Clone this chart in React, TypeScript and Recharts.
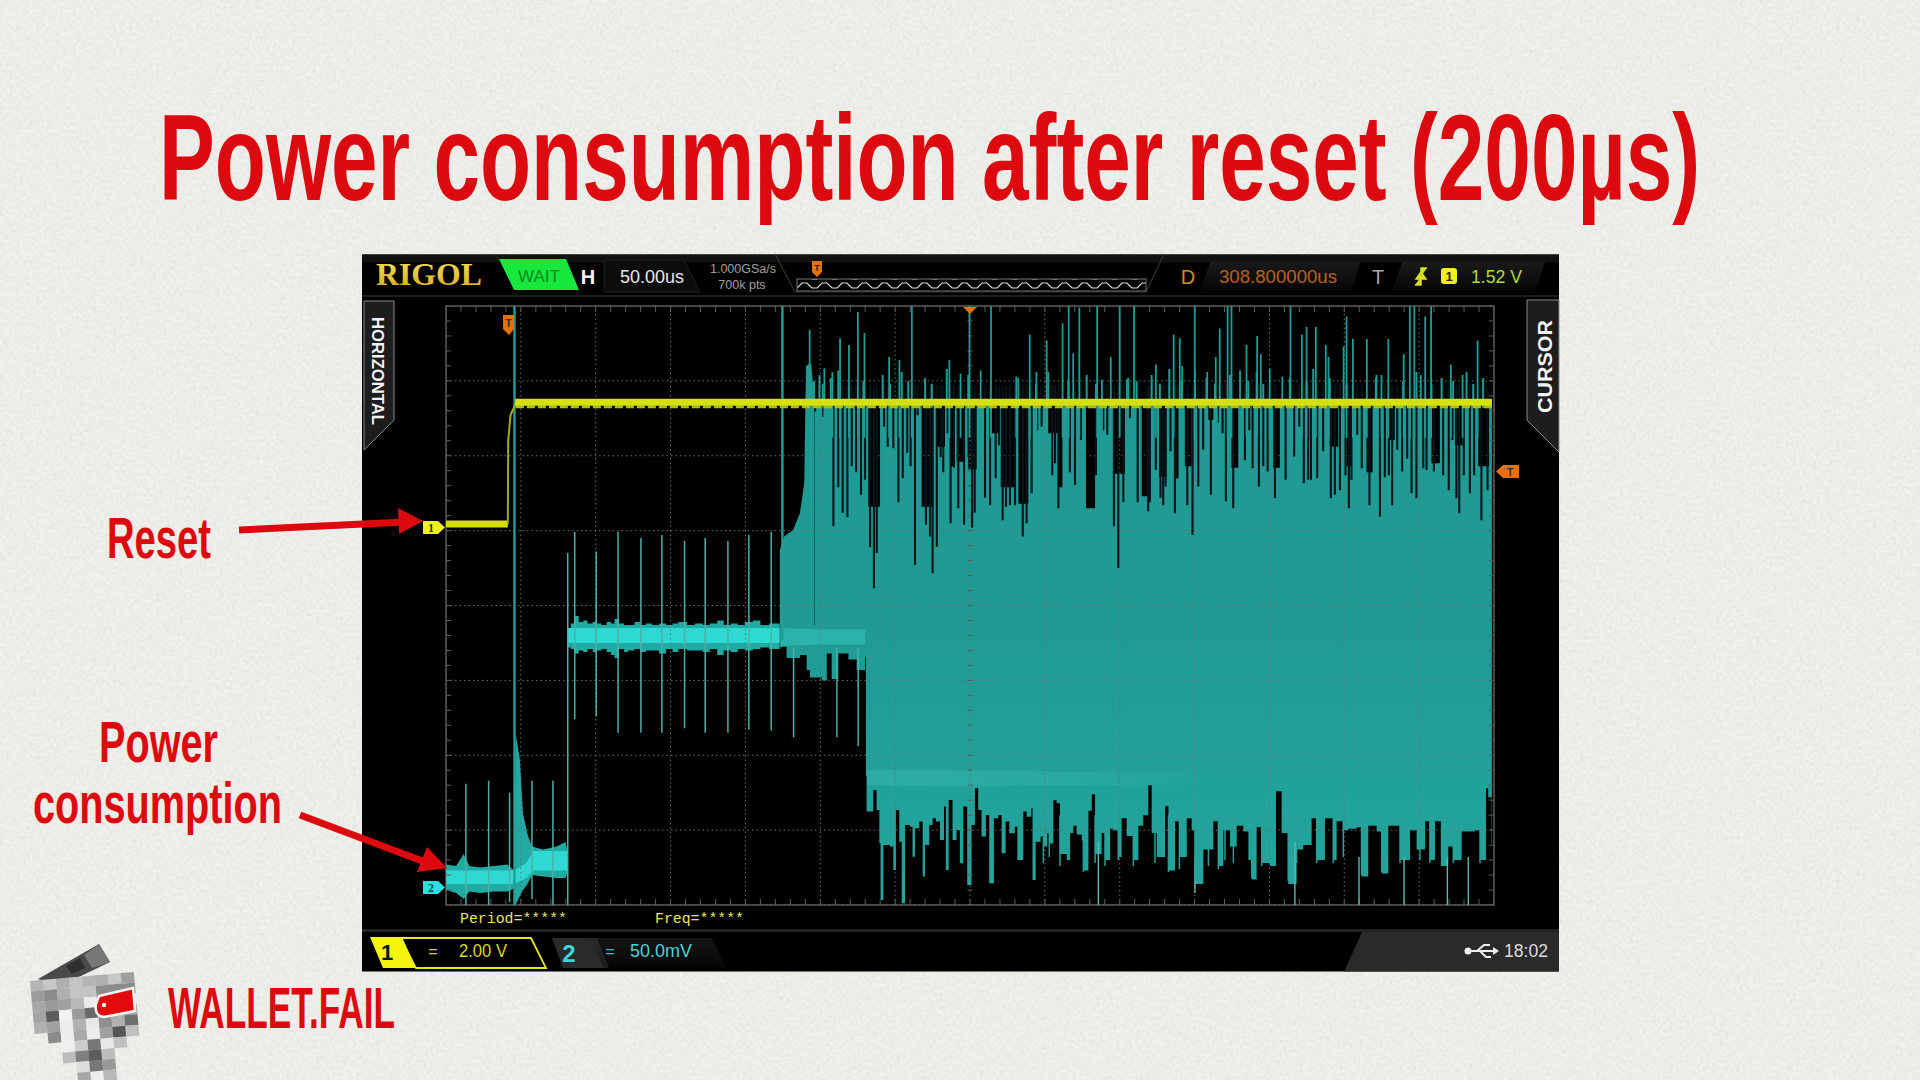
import React from "react";
import { ComposedChart, Area, Line, XAxis, YAxis, ReferenceArea } from "recharts";

// Horizontal axis: screen time position, 0..600 across 14 divisions. Vertical CH2: mV (50 mV/div, 8 div). CH1: volts (2 V/div).
const DIV_T = 600 / 14;
const timeDivs = [0, 1, 2, 3, 4, 5, 6, 7, 8, 9, 10, 11, 12, 13, 14].map((d) => d * DIV_T);
const mvDivs = [-12, 38, 88, 138, 188, 238, 288, 338, 388];

const ch1Low = [[0, 0], [35.4, 0]];
const ch1Rise = [[35.4, 0], [35.6, 2.2], [36.9, 2.9], [40.3, 3.25]];
const ch1High = [[39.6, 3.25], [100, 3.25], [300, 3.25], [598.8, 3.25]];
const ch1Under = [[40, 3.13], [598.8, 3.13]];

// [t, low, high]
const startHalo = [[0, -2, 15], [5.8, -4, 14], [10.1, -8, 22], [13.4, -3, 14], [19.8, -4, 13], [27.5, -3, 14], [35.1, -3, 15], [39, -1, 11], [39.8, -12, 103], [42.3, -6, 85], [44.1, -2, 49], [46.7, 2, 35], [49.2, 8, 27], [55.6, 7, 25], [63.3, 6, 27], [68.4, 6, 30], [69.7, 10, 23]];
const startCore = [[0, 2, 11], [39, 2, 11], [46, 6, 16], [50, 11, 24], [69.5, 11, 24]];
const plateauHalo = [[69.7, 160, 172], [71.5, 159, 176], [73.5, 156, 181], [76, 158, 177], [78.6, 157, 178], [81, 159, 176], [84, 157, 177], [86.3, 158, 176], [89, 159, 175], [92, 157, 177], [94.5, 155, 176], [96.5, 153, 179], [99, 159, 176], [102, 157, 175], [104.2, 158, 175], [108, 159, 177], [111, 157, 175], [114.4, 158, 176], [118, 158, 175], [122, 156, 176], [126, 159, 175], [129.7, 157, 176], [133, 159, 177], [138, 158, 175], [142.5, 158, 176], [147, 157, 175], [151, 159, 176], [155.3, 155, 178], [159, 158, 175], [163, 157, 176], [167, 159, 175], [171, 158, 177], [175.7, 159, 178], [180, 160, 175], [185, 159, 176], [191, 160, 175]];
const plateauCore = [[69.7, 163, 173], [191, 163, 173]];
const transitionGlow = [[192, 161, 173], [215, 162, 172], [240, 162, 172]];
const lowerGlow = [[241, 68, 78], [300, 67, 78], [350, 68, 77], [440, 68, 76]];

// [t, top] of the solid trace
const riseProfile = [[191.1, 225], [193.6, 234], [198.7, 238.4], [202.6, 249.6], [205.1, 269.6], [206.1, 348], [209, 350], [210.9, 325]];
const topProfile = [[211, 325], [241.8, 254], [248.5, 325], [272.3, 254], [279, 325], [280.5, 294], [285.7, 325], [288.6, 281], [291.4, 325], [292.4, 284], [297.1, 325], [299, 279], [303.8, 325], [312.4, 303], [316.2, 325], [317.6, 267], [325.8, 325], [327.7, 256], [333.4, 325], [344.8, 303], [350.6, 267], [352.9, 325], [366.4, 253], [371.6, 325], [382, 276], [388.7, 325], [398.3, 261], [403, 325], [408.3, 274], [412.5, 325], [417.3, 273], [419.2, 325], [423, 281], [426.9, 325], [436.4, 312], [439.3, 325], [449.7, 280], [453.6, 325], [473.6, 280], [477.4, 325], [506, 294], [510.8, 325], [515.6, 281], [518.4, 325], [527, 277], [530.5, 325], [539.4, 298.6], [543.2, 325], [564.2, 283], [569, 325], [577.6, 295], [582, 325], [591, 281], [597.2, 325], [598.8, 325]];

// [t, bottom] of the solid trace
const bottomProfile = [[191.1, 160], [192.2, 160.5], [195, 153], [202.7, 155], [206.5, 145], [208.4, 140], [215.1, 138], [218, 156], [220.8, 139], [224.6, 156], [230.4, 152], [235.1, 145], [239.9, 154], [240.4, 74], [240.8, 50.4], [244.6, 64.8], [246.5, 51.5], [248.1, 29.2], [248.8, -8.6], [250.4, 28], [254.2, 27], [256.1, 11.4], [257.6, 51.5], [259.5, 30.3], [260.9, -10.9], [262.8, 41.5], [265.6, 40.3], [267.1, 20.3], [268.5, 39.2], [271, 43.7], [272.9, 7], [274.2, 28], [276.7, 41.5], [278.6, 45.9], [280.5, 43.7], [282.8, 31.4], [285.1, 53.7], [286.2, 11.4], [287.8, 58.2], [290, 31.4], [292.3, 38.1], [294.2, 15.8], [296.1, 53.7], [298.4, 1.4], [300.9, 41.5], [302.8, 66], [304.7, 51.5], [306.6, 33.7], [309.1, 48.1], [311, 2.5], [313.7, 45.9], [316.2, 48.1], [318.1, 22.5], [320.4, 43.7], [322.5, 35.9], [325.7, 40.3], [327.1, 18.1], [330.5, 50.4], [332.4, 47], [335.1, 52.6], [335.8, 4.7], [337.6, 30.3], [340.4, 33.7], [342.3, 27], [344.2, 35.9], [345.8, 29], [347.7, 58], [349.6, 56], [351.5, 22], [355.4, 18], [357.3, 36], [359.2, 41], [361.1, 35], [364, 31], [364.9, 11], [367.8, 51], [369.7, 62], [371.6, 22], [375.4, 36], [377.3, 18], [380.2, 39], [382.1, 38], [384.9, 20], [386.8, 46], [389.7, 34], [393.5, 18], [396.4, 41], [399.2, 48], [402.1, 68], [404, 36], [406.9, 20], [411.7, 54], [413.6, 11], [417.4, 44], [420.2, 20], [424.1, 46], [426.9, 38], [428.8, 2], [433.6, 25], [439.3, 44], [442.2, 14], [445, 38], [448.9, 27], [452.7, 41], [456.5, 37], [459.4, 18], [461.3, 5], [464.1, 40], [467, 16], [471.8, 14], [475.2, 64], [478.4, 36], [482.2, 2], [487, 25], [490.8, 28], [495.6, 46], [498.5, 18], [503.2, 46], [508, 18], [509.9, 44], [513.7, 38], [516.6, 39], [521.4, 40], [524.2, 7], [528, 41], [532.8, 37], [535.7, 9], [539.5, 41], [543.3, 41], [546.2, 18], [551.9, 38], [555.7, 25], [560.5, 44], [563.3, 18], [566.2, 44], [570, 14], [573.8, 27], [576.7, 18], [581.5, 37], [589.1, 38], [592, 18], [595.4, 66], [596.7, 60], [598.6, 29], [598.8, 40]];

// Full-height channel 2 glitches [t, low, high]
const bigSpikes = [[39.2, -12, 388], [192.6, 165, 388]];
const thinSpikes = [[11.4, -12, 69], [24.4, -12, 71], [36.4, -10, 63], [49.2, -8, 71], [61.2, -12, 71], [69.7, -12, 223], [73.7, 112, 237], [86, 114, 224], [98.5, 103, 237], [111.6, 103, 233], [123.6, 103, 235], [136.6, 106, 231], [148.4, 103, 233], [161.4, 103, 231], [173.4, 105, 235], [186.2, 104.5, 237], [199, 100, 160], [223.8, 100, 160], [236, 94, 160]];
const downSpikes = [[373.5, -12, 30], [428.8, -4, 20], [486, -12, 30], [522.7, -12, 20], [548.5, -12, 20], [573.3, -12, 20], [585.3, -12, 20]];
// Teal stems inside the black lower fringe [t, low]
const lowerStems = [[342, 16], [345.4, 20], [351.5, 14], [356.3, 18], [364.9, 10], [371.6, 16], [377.3, 14], [384.9, 18], [393.5, 14], [405.9, 16], [413.6, 10], [419.9, 12], [428.8, 4], [436.5, 14], [442.2, 12], [446, 18], [450.8, 16], [461.3, 6], [467, 14], [482.2, 4], [487, 16], [498.5, 16], [508, 16], [513.7, 20], [524.2, 8], [535.7, 10], [546.2, 16], [557.6, 18], [563.3, 16], [570, 14], [576.7, 16], [592, 16]];
const STEM_TOP = 48;
const upSpikes = [[208.2, 372], [216.6, 346.4], [221.2, 344], [225.6, 366.5], [230.7, 362], [235.8, 384], [239.6, 370], [253.7, 354], [259.6, 352], [266.7, 388], [288.2, 352], [294.6, 343], [299.7, 388], [306.1, 345], [312, 388], [326.5, 341], [334.2, 369], [338, 344], [343.9, 365], [353, 376.5], [356.5, 388], [359.1, 356.5], [362.6, 387], [372.8, 388], [375.5, 339], [380.6, 354], [385.7, 388], [389.8, 339], [393.9, 388], [406.4, 349], [416.6, 369], [420.1, 366.5], [421.5, 348], [428.7, 388], [435.8, 344], [440.7, 354], [443, 373], [447.5, 388], [449.7, 388], [454.6, 345], [458.3, 362], [464.4, 368], [466.5, 356], [471.6, 346], [478.8, 341], [483.5, 388], [490, 369], [492.7, 374], [498, 374], [503.7, 362], [505.3, 354], [513.9, 361], [515.6, 381], [519.2, 366], [527.2, 366], [532.3, 340], [535.6, 342], [539.5, 366], [548.3, 356], [551.8, 388], [554.4, 388], [558.1, 342], [560.6, 381], [564, 388], [575.3, 349], [582, 342], [590.6, 365]];
const shortStems = [[210.7, 338], [213.8, 342], [215.7, 336], [220.3, 340], [224.6, 345], [239, 338], [250, 342], [254.2, 336], [260.9, 344], [264.7, 338], [274.3, 340], [278.1, 336], [286.7, 346], [299, 342], [327.7, 340], [337.8, 336], [344.8, 344], [356.3, 338], [366.8, 342], [372.1, 336], [390.6, 340], [395.4, 338], [404, 342], [408.7, 336], [414.1, 346], [421.1, 338], [428.8, 344], [435.4, 340], [440.2, 336], [448.8, 342], [459.3, 338], [464.1, 344], [467.9, 336], [483.1, 340], [492.7, 338], [496.5, 346], [506, 340], [515.6, 336], [532.7, 342], [548, 338], [555.6, 344], [564.2, 336], [570, 340], [576.6, 338], [584.3, 344], [588.1, 336], [593.8, 340]];
// Narrow gaps in the trace [t, deepest]
const notches = [[211.3, 317.5], [216, 314], [221.8, 241], [224.6, 267], [227.1, 250], [229.8, 247], [232.3, 281], [234.8, 277], [237.6, 262], [239.9, 272], [242.8, 227], [245, 199.5], [246.6, 223], [250.8, 307.5], [252.9, 294], [256.1, 293], [259, 257], [261.5, 273], [264.1, 290], [266, 281], [268.5, 215], [270, 315], [274.8, 242], [277.1, 234], [278.6, 209.5], [281, 227], [283.2, 287], [284.7, 277], [287.2, 303], [288.9, 243], [290.8, 280], [293.3, 253], [296.6, 242], [299.2, 287], [301.2, 240], [302.7, 250], [308.6, 260], [311.5, 255], [314.7, 273], [316.6, 295], [318.7, 245], [320.6, 254], [322.9, 255], [325.8, 255], [330.2, 234], [332.4, 243], [335.3, 263], [338.5, 305], [341, 307.5], [347.1, 275], [348.7, 283], [350.6, 253], [357.2, 277], [360.1, 268.5], [363.5, 298.6], [372.1, 275], [376.3, 305], [378.6, 302], [382.4, 241], [384.9, 213], [387.8, 257], [391.6, 313], [396, 257], [402, 251], [403, 257], [406.4, 278.5], [409.1, 260], [410.6, 255], [412, 267.4], [414.8, 291], [417.3, 249.6], [418.8, 273], [424.4, 255], [427.4, 235], [430.7, 267.4], [433.5, 292], [437.9, 262], [442.5, 310], [444.6, 303], [446.5, 257.4], [450.7, 253], [457.4, 285], [459.9, 305], [461.8, 279.7], [465.4, 267.4], [467.9, 281], [470.4, 277.4], [474.6, 259.6], [480.7, 272], [485.6, 287.5], [488.5, 307.5], [491.1, 269.6], [493.6, 272], [495.2, 272], [498.8, 273], [502.2, 291], [506.6, 259.6], [508.9, 262], [511.8, 265], [515, 275], [516.9, 253], [518.4, 272], [521.7, 302], [524.3, 279.7], [528.7, 255], [534.7, 247.4], [537.5, 273.7], [539.8, 275], [541.7, 255], [544.6, 292], [547.4, 277.4], [550.3, 286], [552.8, 263], [555.6, 259.6], [559.5, 279.7], [561.4, 278.5], [565.6, 277.4], [570.9, 275], [574.1, 265], [576.2, 298.6], [578.5, 259.6], [580.1, 249.6], [582.7, 275], [586.2, 263], [588.6, 275], [592.8, 245], [596.3, 265]];

const NOTCH_TOP = 335;
const SPIKE_FOOT = 300;
const STEM_FOOT = 320;
const SEAM_TOP = 175;
const SEAM_BOTTOM = 165;

const pairs = (a: number[][]) => a.map(([t, v]) => ({ t, v }));
const bands = (a: number[][]) => a.map(([t, lo, hi]) => ({ t, band: [lo, hi] }));
const segments = (a: number[][]) => a.flatMap(([t, lo, hi]) => [{ t, v: lo }, { t, v: hi }, { t, v: null as any }]);
const riseRows = riseProfile.map(([t, v]) => ({ t, band: [SEAM_BOTTOM, v] }));
const topRows = topProfile.map(([t, v]) => ({ t, band: [SEAM_BOTTOM, v] }));
const bottomRows = bottomProfile.map(([t, v]) => ({ t, band: [v, SEAM_TOP] }));
const upRows = segments(upSpikes.map(([t, v]) => [t, SPIKE_FOOT, v]));
const stemRows = segments(shortStems.map(([t, v]) => [t, STEM_FOOT, v]));
const notchRows = segments(notches.map(([t, v]) => [t, v, NOTCH_TOP]));
const lowerStemRows = segments(lowerStems.map(([t, v]) => [t, v, STEM_TOP]));

const gridRows = [
  ...segments(timeDivs.map((t) => [t, -12, 388])),
  ...mvDivs.flatMap((v) => [{ t: 0, v }, { t: 600, v }, { t: 600, v: null as any }]),
];
const minorT = Array.from({ length: 71 }, (_, i) => (i * 600) / 70);
const minorV = Array.from({ length: 41 }, (_, i) => -12 + i * 10);
const tickRows = [
  ...segments(minorT.map((t) => [t, 384, 388])),
  ...segments(minorT.map((t) => [t, -12, -8])),
  ...minorV.flatMap((v) => [{ t: 0, v }, { t: 3, v }, { t: 3, v: null as any }, { t: 597, v }, { t: 600, v }, { t: 600, v: null as any }]),
];
const centreRows = [
  ...minorV.flatMap((v) => [{ t: 298.5, v }, { t: 301.5, v }, { t: 301.5, v: null as any }]),
];

const RED = "#dc0a0e";
const HEAD = '"Liberation Sans Narrow","Liberation Sans",sans-serif';
const UI = '"Liberation Sans",sans-serif';

const logoRows = [
  ["#b4b4b4", "#c8c8c8", "#b0b0b0", "#c4c4c4", "#b4b4b4", "#b0b0b0", "#c8c8c8", "#a0a0a0"],
  ["#9c9c9c", "#8c8c8c", "#b0b0b0", "#c4c4c4", "#c4c4c4", "#8c8c8c", "#8c8c8c", "#8c8c8c"],
  ["#a8a8a8", "#9a9a9a", "#a0a0a0", "#b8b8b8", "#ececec", "#8a8a8a", "", ""],
  ["#a4a4a4", "#5c5c5c", "#f2f2f2", "#9a9a9a", "#6a6a6a", "#c4c4c4", "#bcbcbc", "#a8a8a8"],
  ["#b0b0b0", "#a0a0a0", "#ececec", "#b0b0b0", "#e8e8e8", "#909090", "#b0b0b0", "#707070"],
  ["", "#8c8c8c", "#eeeeee", "#a8a8a8", "#ececec", "#a0a0a0", "#555555", "#c0c0c0"],
  ["", "", "#f0f0f0", "#cccccc", "#777777", "#e8e8e8", "#c0c0c0", ""],
  ["", "", "#bdbdbd", "#808080", "#5c5c5c", "#bcbcbc", "", ""],
  ["", "", "", "#dddddd", "#777777", "#9a9a9a", "", ""],
  ["", "", "", "#a8a8a8", "", "#b8b8b8", "", ""],
];

function Background() {
  return (
    <svg width={1920} height={1080} style={{ position: "absolute", left: 0, top: 0 }}>
      <defs>
        <filter id="paper" x="0" y="0" width="100%" height="100%">
          <feTurbulence type="fractalNoise" baseFrequency="0.3" numOctaves={3} seed={7} />
          <feColorMatrix values="0 0 0 0 0.55  0 0 0 0 0.55  0 0 0 0 0.5  0.4 0 0 0 -0.12" />
        </filter>
        <pattern id="wave" x="797" y="281" width="20" height="9" patternUnits="userSpaceOnUse">
          <path d="M0 7 L5 2 L10 2 L15 7 L20 7" fill="none" stroke="#ddd" strokeWidth={1.2} />
        </pattern>
      </defs>
      <rect width={1920} height={1080} fill="#f0f0ec" />
      <rect width={1920} height={1080} filter="url(#paper)" />
      <rect x={362} y={254.5} width={1197} height={717} fill="#000" />
      <rect x={362} y={254.5} width={1197} height={8} fill="#111" />
      <line x1={362} x2={1559} y1={296} y2={296} stroke="#1e1e1e" strokeWidth={2} />
      <line x1={362} x2={1559} y1={930.5} y2={930.5} stroke="#2e2e2e" strokeWidth={2} />
      <polygon points="1362,932 1559,932 1559,971.5 1344,971.5" fill="#2a2a2a" />
    </svg>
  );
}

function Overlay() {
  return (
    <svg width={1920} height={1080} style={{ position: "absolute", left: 0, top: 0, pointerEvents: "none" }}>
      <defs>
        <linearGradient id="rigol" x1="0" y1="0" x2="0" y2="1">
          <stop offset="0" stopColor="#f4e25a" />
          <stop offset="1" stopColor="#d8a818" />
        </linearGradient>
        <linearGradient id="boxFill" x1="0" y1="0" x2="0" y2="1">
          <stop offset="0" stopColor="#2a2a2a" />
          <stop offset="1" stopColor="#0a0a0a" />
        </linearGradient>
      </defs>

      {/* slide text */}
      <text transform="translate(159,200) scale(0.686,1)" fontFamily={HEAD} fontWeight={700} fontSize={122} fill={RED}>Power consumption after reset (200µs)</text>
      <text x={107} y={558} fontFamily={HEAD} fontWeight={700} fontSize={57} fill={RED} textLength={104} lengthAdjust="spacingAndGlyphs">Reset</text>
      <text x={99} y={762} fontFamily={HEAD} fontWeight={700} fontSize={57} fill={RED} textLength={119} lengthAdjust="spacingAndGlyphs">Power</text>
      <text x={33} y={823} fontFamily={HEAD} fontWeight={700} fontSize={57} fill={RED} textLength={249} lengthAdjust="spacingAndGlyphs">consumption</text>
      <text x={168} y={1028} fontFamily={HEAD} fontWeight={700} fontSize={58} fill={RED} textLength={227} lengthAdjust="spacingAndGlyphs">WALLET.FAIL</text>

      {/* arrows */}
      <line x1={239} y1={530} x2={405} y2={522} stroke={RED} strokeWidth={7} />
      <polygon points="398,508 423,521 399,534" fill={RED} />
      <line x1={300} y1={815} x2={425} y2={862} stroke={RED} strokeWidth={7} />
      <polygon points="427,847 447,868 417,872" fill={RED} />

      {/* logo */}
      <polygon points="38,979 99,944 110,962 60,986" fill="#4a4a4a" />
      <polygon points="66,966 80,958 85,968 72,974" fill="#2f2f2f" />
      <polygon points="84,955 99,944 110,962 92,968" fill="#777" />
      <g transform="translate(30,981) rotate(-5)">
        {logoRows.map((row, r) =>
          row.map((c, i) => (c ? <rect key={`${r}-${i}`} x={i * 13} y={r * 10.6} width={13.2} height={10.8} fill={c} /> : null))
        )}
      </g>
      <path d="M99 996 L133 988 L135 1011 L104 1017 Q94 1016 96 1004 Z" fill="#e20a0a" stroke="#f4f4f4" strokeWidth={2.5} />
      <circle cx={104} cy={1005} r={2.2} fill="#fff" />

      {/* header */}
      <text x={376} y={285} fontFamily='"Liberation Serif",serif' fontWeight={700} fontSize={31} fill="url(#rigol)" textLength={106} lengthAdjust="spacingAndGlyphs">RIGOL</text>
      <polygon points="499,259 566,259 579,290 514,290" fill="#16e83e" />
      <text x={539} y={282} textAnchor="middle" fontFamily={UI} fontSize={17} fill="#0a8a1e">WAIT</text>
      <text x={588} y={284} textAnchor="middle" fontFamily={UI} fontWeight={700} fontSize={20} fill="#f4f4f4">H</text>
      <polygon points="604,260 684,260 700,292 604,292" fill="#0c0c0c" stroke="#222" />
      <text x={652} y={283} textAnchor="middle" fontFamily={UI} fontSize={18} fill="#e8e8e8">50.00us</text>
      <text x={743} y={273} textAnchor="middle" fontFamily={UI} fontSize={12.5} fill="#a0a0a0">1.000GSa/s</text>
      <text x={742} y={289} textAnchor="middle" fontFamily={UI} fontSize={12.5} fill="#a0a0a0">700k pts</text>
      <polyline points="775,254 795,292 1146,292 1164,254" fill="none" stroke="#333" strokeWidth={1.2} />
      <rect x={797} y={279} width={349} height={12} fill="url(#wave)" stroke="#777" />
      <polygon points="812,261 822,261 822,272 817,277 812,272" fill="#e8700a" />
      <text x={817} y={271} textAnchor="middle" fontFamily={UI} fontWeight={700} fontSize={9} fill="#222">T</text>
      <text x={1188} y={284} textAnchor="middle" fontFamily={UI} fontSize={20} fill="#d08a20">D</text>
      <polygon points="1210,262 1360,262 1352,292 1200,292" fill="url(#boxFill)" opacity={0.6} />
      <text x={1219} y={283} fontFamily={UI} fontSize={17.5} fill="#b8621c" textLength={118} lengthAdjust="spacingAndGlyphs">308.800000us</text>
      <text x={1378} y={284} textAnchor="middle" fontFamily={UI} fontSize={20} fill="#a8a8a8">T</text>
      <polygon points="1402,262 1545,262 1535,292 1392,292" fill="url(#boxFill)" opacity={0.6} />
      <path d="M1415 285 L1421 285 L1421 268 L1427 268 M1421 272 L1416 279 L1426 279 Z" fill="#d8e020" stroke="#d8e020" strokeWidth={1.5} />
      <rect x={1441} y={268} width={16} height={16} rx={3} fill="#f0ee20" />
      <text x={1449} y={281} textAnchor="middle" fontFamily={UI} fontWeight={700} fontSize={13} fill="#222">1</text>
      <text x={1471} y={283} fontFamily={UI} fontSize={17.5} fill="#b4dc3c" textLength={51} lengthAdjust="spacingAndGlyphs">1.52 V</text>

      {/* side tabs */}
      <polygon points="364,301 394,301 394,420 364,450" fill="#1d1d1d" stroke="#8a8a8a" strokeWidth={1} />
      <text transform="translate(372,317) rotate(90)" fontFamily={UI} fontWeight={700} fontSize={17} fill="#f4f4f4" textLength={108} lengthAdjust="spacingAndGlyphs">HORIZONTAL</text>
      <polygon points="1559,300 1527,300 1527,420 1559,452" fill="#1d1d1d" stroke="#8a8a8a" strokeWidth={1} />
      <text transform="translate(1552,413) rotate(-90)" fontFamily={UI} fontWeight={700} fontSize={20} fill="#f4f4f4" textLength={93} lengthAdjust="spacingAndGlyphs">CURSOR</text>

      {/* trace markers */}
      <polygon points="503,315 514,315 514,329 509,335 503,329" fill="#e8700a" />
      <text x={508.5} y={327} textAnchor="middle" fontFamily={UI} fontWeight={700} fontSize={11} fill="#333">T</text>
      <polygon points="963,307 977,307 970,314" fill="#e8700a" />
      <polygon points="1519,465 1503,465 1496,471.5 1503,478 1519,478" fill="#e8700a" />
      <text x={1510} y={476} textAnchor="middle" fontFamily={UI} fontWeight={700} fontSize={11} fill="#333">T</text>
      <polygon points="423,521 438,521 445,527.5 438,534 423,534" fill="#f0f020" />
      <text x={431} y={532} textAnchor="middle" fontFamily='"Liberation Serif",serif' fontWeight={700} fontSize={12} fill="#333">1</text>
      <polygon points="423,881 438,881 445,887.5 438,894 423,894" fill="#2ae0e0" />
      <text x={431} y={892} textAnchor="middle" fontFamily='"Liberation Serif",serif' fontWeight={700} fontSize={12} fill="#1a4a4a">2</text>

      {/* footer */}
      <text x={460} y={923} fontFamily='"Liberation Mono",monospace' fontSize={14} fill="#e8e860" textLength={107} lengthAdjust="spacingAndGlyphs">Period=*****</text>
      <text x={655} y={923} fontFamily='"Liberation Mono",monospace' fontSize={14} fill="#e8e860" textLength={89} lengthAdjust="spacingAndGlyphs">Freq=*****</text>
      <polygon points="400,938 531,938 546,968 416,968" fill="none" stroke="#e6e620" strokeWidth={1.8} />
      <polygon points="370,937 402,937 416,968 383,968" fill="#f4f410" />
      <text x={387} y={960} textAnchor="middle" fontFamily={UI} fontWeight={700} fontSize={22} fill="#111">1</text>
      <text x={433} y={957} textAnchor="middle" fontFamily={UI} fontSize={16} fill="#d8d820">=</text>
      <text x={459} y={957} fontFamily={UI} fontSize={18} fill="#d8d820" textLength={48} lengthAdjust="spacingAndGlyphs">2.00 V</text>
      <polygon points="552,938 597,938 609,968 563,968" fill="#2a2a2a" />
      <polygon points="590,938 712,938 726,968 604,968" fill="url(#boxFill)" opacity={0.5} />
      <text x={569} y={962} textAnchor="middle" fontFamily={UI} fontWeight={700} fontSize={24} fill="#3ad8d8">2</text>
      <text x={610} y={957} textAnchor="middle" fontFamily={UI} fontSize={16} fill="#3ac0c0">=</text>
      <text x={630} y={957} fontFamily={UI} fontSize={18} fill="#48d4d4" textLength={62} lengthAdjust="spacingAndGlyphs">50.0mV</text>
      <g stroke="#eee" strokeWidth={2} fill="none">
        <path d="M1469 951 L1495 951 M1477 951 L1484 945 L1490 945 M1480 951 L1486 957 L1491 957" />
      </g>
      <circle cx={1468} cy={951} r={3.5} fill="#eee" />
      <polygon points="1493,947 1499,951 1493,955" fill="#eee" />
      <text x={1504} y={957} fontFamily={UI} fontSize={18} fill="#dcdcdc" textLength={44} lengthAdjust="spacingAndGlyphs">18:02</text>
    </svg>
  );
}

export default function App() {
  const teal = "#1f9b94";
  const common = { xAxisId: "t", isAnimationActive: false, dot: false, activeDot: false, legendType: "none" as const };
  const ch2 = { ...common, yAxisId: "ch2" };
  const ch1 = { ...common, yAxisId: "ch1" };
  return (
    <div style={{ position: "absolute", left: 0, top: 0, width: 1920, height: 1080, overflow: "hidden" }}>
      <Background />
      <div style={{ position: "absolute", left: 0, top: 0 }}>
        <ComposedChart width={1920} height={1080} margin={{ left: 446, right: 426, top: 306, bottom: 175 }} style={{ background: "transparent" }}>
          <defs>
            <linearGradient id="lowerTeal" x1="0" y1="0" x2="0" y2="1">
              <stop offset="0" stopColor={teal} />
              <stop offset="1" stopColor="#22a69d" />
            </linearGradient>
            <linearGradient id="fadeGlow" x1="0" y1="0" x2="1" y2="0">
              <stop offset="0" stopColor="#38b8ae" stopOpacity={0.5} />
              <stop offset="0.6" stopColor="#38b8ae" stopOpacity={0.35} />
              <stop offset="1" stopColor="#38b8ae" stopOpacity={0} />
            </linearGradient>
          </defs>
          <XAxis xAxisId="t" dataKey="t" type="number" domain={[0, 600]} ticks={timeDivs} interval={0} tick={false} tickLine={false} axisLine={false} height={0} allowDataOverflow />
          <YAxis yAxisId="ch2" type="number" domain={[-12, 388]} ticks={mvDivs} interval={0} tick={false} tickLine={false} axisLine={false} width={0} allowDataOverflow />
          <YAxis yAxisId="ch1" type="number" orientation="right" domain={[-10.18, 5.82]} tick={false} tickLine={false} axisLine={false} width={0} allowDataOverflow />
          <Line {...ch2} data={gridRows} dataKey="v" stroke="#6e6e6e" strokeWidth={1} strokeDasharray="1.5 3" connectNulls={false} />
          <ReferenceArea xAxisId="t" yAxisId="ch2" x1={0} x2={600} y1={-12} y2={388} fill="none" stroke="#585858" strokeWidth={1.5} />
          <Line {...ch2} data={tickRows} dataKey="v" stroke="#5c5c5c" strokeWidth={1} connectNulls={false} />
          <Line {...ch2} data={centreRows} dataKey="v" stroke="#5c5c5c" strokeWidth={1} connectNulls={false} />

          <Area {...ch2} data={bands(startHalo)} dataKey="band" stroke="none" fill="#20aaa4" fillOpacity={1} />
          <Area {...ch2} data={bands(startCore)} dataKey="band" stroke="none" fill="#2fd9d3" fillOpacity={1} />
          <Area {...ch2} type="stepAfter" data={bands(plateauHalo)} dataKey="band" stroke="none" fill="#20aaa4" fillOpacity={1} />
          <Area {...ch2} data={bands(plateauCore)} dataKey="band" stroke="none" fill="#2fd9d3" fillOpacity={1} />
          <Line {...ch2} data={segments(thinSpikes)} dataKey="v" stroke="#4fb0a6" strokeWidth={1.5} connectNulls={false} />
          <Line {...ch2} data={segments(downSpikes)} dataKey="v" stroke="#5db8ae" strokeWidth={1.4} connectNulls={false} />
          <Line {...ch2} data={lowerStemRows} dataKey="v" stroke="#2a9f97" strokeWidth={1.5} connectNulls={false} />
          <Area {...ch2} type="stepAfter" data={bottomRows} dataKey="band" stroke="none" fill="url(#lowerTeal)" fillOpacity={1} />
          <Area {...ch2} data={riseRows} dataKey="band" stroke="none" fill={teal} fillOpacity={1} />
          <Area {...ch2} type="stepAfter" data={topRows} dataKey="band" stroke="none" fill={teal} fillOpacity={1} />
          <Area {...ch2} data={bands(transitionGlow)} dataKey="band" stroke="none" fill="#35c4bc" fillOpacity={0.55} />
          <Area {...ch2} data={bands(lowerGlow)} dataKey="band" stroke="none" fill="url(#fadeGlow)" fillOpacity={1} />
          <Line {...ch2} data={notchRows} dataKey="v" stroke="#06141a" strokeWidth={2.1} connectNulls={false} />
          <Line {...ch2} data={upRows} dataKey="v" stroke={teal} strokeWidth={1.8} connectNulls={false} />
          <Line {...ch2} data={stemRows} dataKey="v" stroke={teal} strokeWidth={2} connectNulls={false} />
          <Line {...ch2} data={segments(bigSpikes)} dataKey="v" stroke="#2a9a94" strokeWidth={2.4} connectNulls={false} />

          <Line {...ch1} data={pairs(ch1Low)} dataKey="v" stroke="#d4dc10" strokeWidth={7} />
          <Line {...ch1} data={pairs(ch1Rise)} dataKey="v" stroke="#a8a818" strokeWidth={2} />
          <Line {...ch1} data={pairs(ch1Under)} dataKey="v" stroke="#b4bc10" strokeWidth={3} strokeDasharray="8 3" />
          <Line {...ch1} data={pairs(ch1High)} dataKey="v" stroke="#d4e010" strokeWidth={7} />
        </ComposedChart>
      </div>
      <Overlay />
    </div>
  );
}
